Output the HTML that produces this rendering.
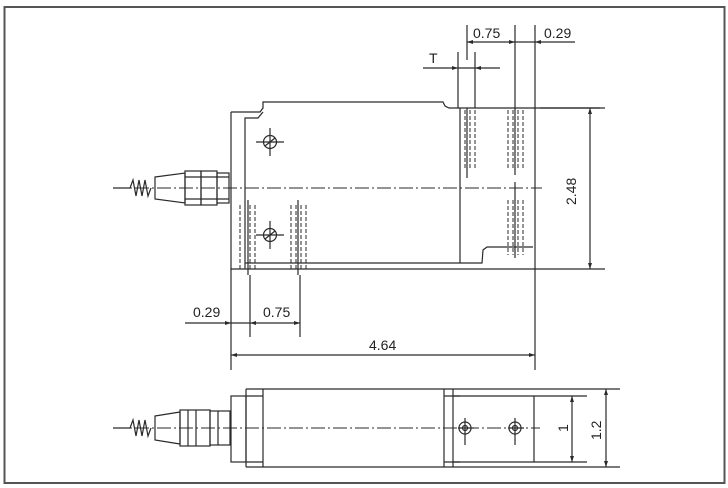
<!DOCTYPE html>
<html><head><meta charset="utf-8"><style>
html,body{margin:0;padding:0;background:#fff}
svg{display:block}
text{font-family:"Liberation Sans",sans-serif;font-size:14px;fill:#222}
</style></head><body>
<svg width="728" height="488" viewBox="0 0 728 488" xmlns="http://www.w3.org/2000/svg">
<rect x="4.5" y="7" width="720" height="476" fill="none" stroke="#555" stroke-width="2"/>
<g stroke="#2a2a2a" stroke-width="1.2" fill="none">
<!-- TOP VIEW body -->
<path d="M231,112 L231,270 M231,269 L605,269"/>
<path d="M231,112 L260,112 L263,108 L263,102 L443,102 L445,106 L449,108 L605,108"/>
<path d="M245,269 L245,118 L258,118 L263,112"/>
<path d="M460,108 L460,263 M245,263 L482,263 L483,250 L487,247 L533,247"/>
<path d="M535,25 L535,370"/>
<!-- centerline -->
<path d="M113,188 L542,188" stroke-dasharray="14,3,2,3" stroke-width="1"/>
<!-- screws -->
<circle cx="270" cy="142" r="6.5"/><path d="M256,142 L284,142 M270,128 L270,156 M265,146 L275,138"/>
<circle cx="270" cy="235" r="6.5"/><path d="M256,235 L284,235 M270,221 L270,249 M265,239 L275,231"/>
<!-- connector top -->
<path d="M113,188 L130,188 L133,180 L136,196 L139,180 L142,196 L145,180 L148,196 L151,188"/>
<path d="M155,177 L185,173 L185,203 L155,199 Z"/>
<rect x="185" y="171" width="16" height="34"/><rect x="201" y="171" width="16" height="34"/>
<rect x="217" y="173" width="12" height="30"/><path d="M185,177 L229,177 M185,199 L229,199"/>
<!-- dashed bolts -->
<g stroke-dasharray="4,2" stroke-width="1">
<path d="M460,110 L460,170 M465,110 L465,170 M470,110 L470,170 M475,110 L475,170"/>
<path d="M508,110 L508,170 M513,110 L513,170 M518,110 L518,170 M523,110 L523,170"/>
<path d="M508,200 L508,255 M513,200 L513,255 M518,200 L518,255 M523,200 L523,255"/>
<path d="M240,205 L240,269 M245,205 L245,269 M250,205 L250,269 M255,205 L255,269"/>
<path d="M291,205 L291,269 M296,205 L296,269 M301,205 L301,269 M306,205 L306,269"/>
</g>
<path d="M467,108 L467,178 M515,108 L515,175 M515,182 L515,258 M248,200 L248,275 M298,200 L298,275"/>
<!-- dims top -->
<path d="M458,52 L458,108 M475,52 L475,108 M423,68 L500,68"/>
<path d="M467,25 L467,60 M515,25 L515,108 M467,42 L575,42"/>
<path d="M540,108 L600,108"/>
<path d="M590,108 L590,269"/>
<!-- dims bottom -->
<path d="M231,269 L231,370 M250,275 L250,337 M300,275 L300,337 M185,323 L300,323"/>
<path d="M231,355 L535,355"/>
<!-- SIDE VIEW -->
<path d="M246,389 L620,389 M246,467 L620,467"/>
<rect x="231" y="396" width="15" height="66"/>
<path d="M246,389 L246,467 M263,389 L263,467 M444,389 L444,467 M453,389 L453,467 M246,396 L263,396 M246,462 L263,462 M444,396 L460,396 M444,462 L460,462"/>
<path d="M453,396 L587,396 M453,462 L587,462 M534,396 L534,462"/>
<path d="M572,396 L572,462 M606,389 L606,467"/>
<path d="M113,428 L540,428" stroke-dasharray="14,3,2,3" stroke-width="1"/>
<circle cx="465" cy="428" r="6"/><circle cx="465" cy="428" r="2.5"/><path d="M465,418 L465,445 M458,428 L474,428"/>
<circle cx="515" cy="428" r="6"/><circle cx="515" cy="428" r="2.5"/><path d="M515,418 L515,445 M508,428 L524,428"/>
<path d="M113,428 L130,428 L133,420 L136,436 L139,420 L142,436 L145,420 L148,436 L151,428"/>
<path d="M155,416 L180,412 L180,444 L155,440 Z"/>
<rect x="180" y="410" width="30" height="36"/><rect x="210" y="411" width="20" height="34"/>
<path d="M188,410 L188,446 M196,410 L196,446 M218,411 L218,445"/>
</g>
<g fill="#2a2a2a">
<path d="M467,42 l6,-2 v4z M515,42 l-6,-2 v4z M535,42 l6,-2 v4z M458,68 l-6,-2 v4z M475,68 l6,-2 v4z"/>
<path d="M590,108 l-2,6 h4z M590,269 l-2,-6 h4z"/>
<path d="M231,323 l-6,-2 v4z M250,323 l6,-2 v4z M300,323 l-6,-2 v4z M231,355 l6,-2 v4z M535,355 l-6,-2 v4z"/>
<path d="M572,396 l-2,6 h4z M572,462 l-2,-6 h4z M606,389 l-2,6 h4z M606,467 l-2,-6 h4z"/>
</g>
<text x="473" y="38">0.75</text>
<text x="544" y="38">0.29</text>
<text x="429" y="63">T</text>
<text x="193" y="317">0.29</text>
<text x="263" y="317">0.75</text>
<text x="369" y="350">4.64</text>
<text transform="translate(576,205) rotate(-90)">2.48</text>
<text transform="translate(568,432) rotate(-90)">1</text>
<text transform="translate(601,440) rotate(-90)">1.2</text>
</svg>
</body></html>
